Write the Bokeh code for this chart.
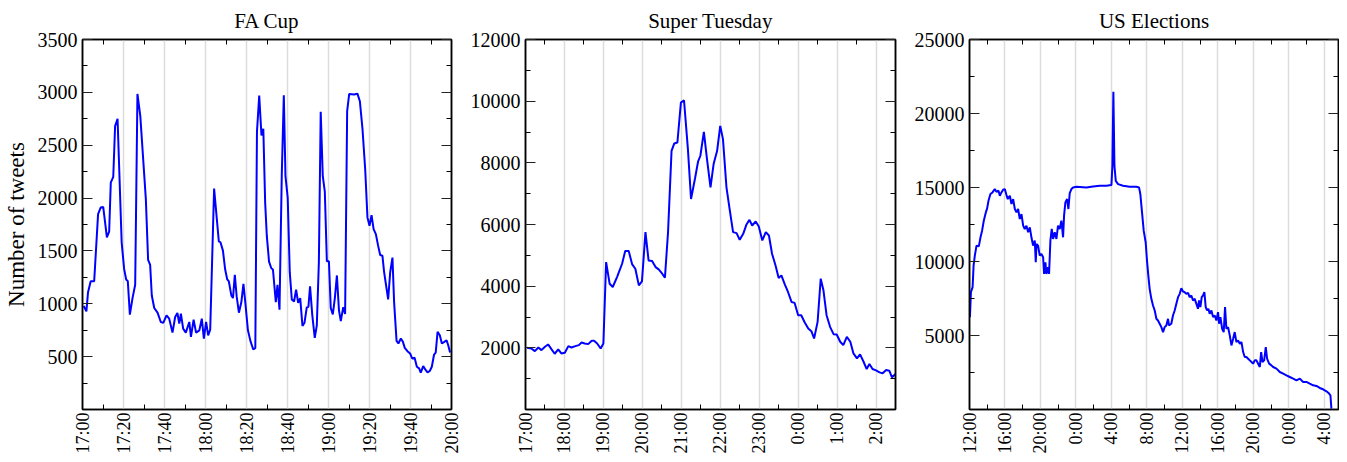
import numpy as np
from bokeh.plotting import figure
from bokeh.models import FixedTicker, LinearAxis, Range1d, ColumnDataSource
from bokeh.layouts import row
from bokeh.embed import file_html
from bokeh.resources import INLINE

FONT = "Liberation Serif"

# ---------------- FA Cup (minutes after 17:00) ----------------
fa_minutes = [0.6, 1.9, 2.7, 4.0, 5.7, 7.6, 8.9, 10.1, 11.9, 13.0, 13.8, 15.0, 15.9, 17.1,
              19.1, 20.3, 21.3, 22.1, 23.1, 24.4, 25.7, 26.8, 28.2, 30.9, 32.0, 33.0, 33.8,
              35.0, 36.6, 38.2, 39.4, 41.0, 42.3, 43.9, 45.2, 46.3, 47.2, 48.0, 49.1, 50.4,
              52.1, 52.9, 54.2, 55.4, 57.0, 58.2, 59.2, 60.3, 61.3, 62.3, 64.2, 66.5, 67.3,
              68.5, 69.6, 70.6, 71.4, 72.6, 73.4, 74.3, 75.2, 76.3, 77.5, 78.5, 79.4, 80.7,
              81.9, 83.3, 84.3, 85.1, 86.2, 87.3, 88.2, 89.1, 89.9, 91.0, 92.1, 92.9, 94.3,
              95.1, 96.1, 97.2, 98.2, 99.0, 100.1, 101.1, 102.1, 103.2, 104.2, 105.2, 106.2,
              107.3, 108.3, 109.4, 110.2, 111.0, 112.1, 113.3, 114.3, 115.3, 116.2, 117.2,
              118.2, 119.2, 120.2, 121.1, 122.1, 123.1, 124.1, 125.1, 126.0, 127.2, 128.1,
              129.1, 130.1, 132.5, 134.1, 135.3, 136.6, 137.9, 139.0, 140.0, 141.0, 142.0,
              143.1, 144.2, 145.2, 146.3, 147.1, 148.1, 149.1, 150.1, 151.2, 152.0, 153.2,
              154.1, 155.3, 156.3, 157.2, 158.5, 159.8, 160.8, 162.0, 163.1, 164.2, 165.0,
              166.2, 167.2, 168.3, 169.4, 170.4, 171.5, 172.3, 173.2, 174.3, 175.3, 176.5,
              177.6, 178.4, 179.3]
fa_tweets = [979, 928, 1110, 1214, 1214, 1848, 1911, 1917, 1629, 1682, 2147, 2200, 2680, 2750,
             1582, 1330, 1230, 1214, 897, 1054, 1180, 2985, 2775, 1990, 1415, 1368, 1079,
             960, 916, 828, 819, 890, 859, 727, 875, 913, 812, 906, 765, 727,
             828, 687, 850, 727, 749, 859, 671, 828, 702, 756, 2090, 1591, 1582,
             1503, 1324, 1230, 1211, 1079, 1054, 1274, 1070, 916, 1016, 1189, 1016, 749,
             649, 567, 583, 2624, 2969, 2593, 2656, 1958, 1644, 1399, 1336, 1324, 1016,
             1180, 944, 2210, 2972, 2210, 2005, 1299, 1041, 1022, 1133, 1010, 1054,
             790, 821, 966, 972, 1164, 891, 677, 796, 1393, 2816, 2210,
             2062, 1403, 1403, 960, 900, 1054, 1268, 938, 837, 969, 903,
             2822, 2985, 2979, 2988, 2916, 2649, 2272, 1817, 1738, 1838, 1706,
             1659, 1550, 1462, 1455, 1305, 1173, 1041, 1299, 1437, 1016, 649,
             624, 671, 640, 583, 552, 530, 483, 489, 404, 389, 348,
             411, 379, 351, 364, 404, 520, 539, 734, 702, 624, 640,
             655, 608, 539]
fa_xticks = [0, 20, 40, 60, 80, 100, 120, 140, 160, 180]
fa_xlabels = ["17:00", "17:20", "17:40", "18:00", "18:20", "18:40", "19:00", "19:20", "19:40", "20:00"]
fa_xminor = [10, 30, 50, 70, 90, 110, 130, 150, 170]
fa_yticks = [500, 1000, 1500, 2000, 2500, 3000, 3500]
fa_yminor = [250, 750, 1250, 1750, 2250, 2750, 3250]

# ---------------- Super Tuesday (hours after 17:00) ----------------
st_hours = [0.04, 0.15, 0.24, 0.33, 0.41, 0.50, 0.58, 0.67, 0.75, 0.84, 0.92, 1.01, 1.10, 1.18,
            1.28, 1.37, 1.44, 1.52, 1.61, 1.70, 1.76, 1.84, 1.93, 2.00, 2.07, 2.16, 2.24, 2.35,
            2.48, 2.56, 2.65, 2.74, 2.82, 2.91, 2.99, 3.08, 3.16, 3.25, 3.34, 3.42, 3.51, 3.58,
            3.66, 3.75, 3.82, 3.90, 3.99, 4.07, 4.17, 4.25, 4.35, 4.43, 4.49, 4.58, 4.66, 4.75,
            4.83, 4.92, 5.00, 5.07, 5.16, 5.24, 5.33, 5.42, 5.50, 5.59, 5.67, 5.75, 5.82, 5.91,
            5.99, 6.08, 6.17, 6.25, 6.33, 6.42, 6.50, 6.57, 6.66, 6.74, 6.83, 6.91, 7.00, 7.08,
            7.17, 7.26, 7.34, 7.41, 7.50, 7.58, 7.65, 7.73, 7.82, 7.91, 7.99, 8.08, 8.16, 8.25,
            8.34, 8.42, 8.51, 8.59, 8.68, 8.76, 8.83, 8.91, 9.00, 9.09, 9.17, 9.26, 9.34, 9.41,
            9.50]
st_tweets = [2001, 1980, 1892, 2012, 1926, 2034, 2110, 1948, 1808, 1948, 1818, 1840, 2055, 2012,
             2055, 2088, 2174, 2142, 2120, 2228, 2228, 2142, 1980, 2142, 4781, 4080, 3973, 4296,
             4727, 5137, 5137, 4706, 4565, 4027, 4157, 5752, 4835, 4813, 4619, 4544, 4404, 4275,
             5752, 8391, 8628, 8660, 9954, 10030, 8445, 6828, 7476, 8036, 8230, 9006, 8122, 7206,
             7961, 8391, 9200, 8769, 7206, 6505, 5752, 5719, 5503, 5698, 5989, 6150, 5967, 6097,
             5935, 5482, 5752, 5644, 5052, 4673, 4264, 4350, 4049, 3812, 3489, 3457, 3058, 3058,
             2821, 2627, 2541, 2304, 2843, 4243, 3866, 3058, 2681, 2444, 2433, 2196, 2088, 2357,
             2196, 1818, 1657, 1786, 1549, 1312, 1474, 1312, 1269, 1205, 1173, 1280, 1258, 1043,
             1151]
st_xticks = [0, 1, 2, 3, 4, 5, 6, 7, 8, 9]
st_xlabels = ["17:00", "18:00", "19:00", "20:00", "21:00", "22:00", "23:00", "0:00", "1:00", "2:00"]
st_xminor = [0.5, 1.5, 2.5, 3.5, 4.5, 5.5, 6.5, 7.5, 8.5]
st_yticks = [2000, 4000, 6000, 8000, 10000, 12000]
st_yminor = [1000, 3000, 5000, 7000, 9000, 11000]

# ---------------- US Elections (hours after 12:00) ----------------
us_hours = [0.05, 0.16, 0.35, 0.46, 0.60, 0.79, 1.05, 1.24, 1.42, 1.61, 1.84, 1.99, 2.14, 2.36,
            2.59, 2.85, 3.04, 3.27, 3.42, 3.60, 3.79, 3.98, 4.17, 4.32, 4.55, 4.73, 4.92, 5.11,
            5.30, 5.48, 5.67, 5.86, 6.05, 6.23, 6.42, 6.61, 6.80, 6.98, 7.17, 7.36, 7.47, 7.55,
            7.73, 7.92, 8.11, 8.30, 8.41, 8.56, 8.67, 8.86, 8.97, 9.12, 9.27, 9.42, 9.61, 9.80,
            9.98, 10.17, 10.36, 10.55, 10.66, 10.81, 11.00, 11.15, 11.30, 11.49, 11.68, 12.05,
            13.18, 13.93, 14.68, 15.43, 16.00, 16.11, 16.22, 16.34, 16.49, 16.75, 17.31, 18.06,
            18.81, 19.11, 19.26, 19.45, 19.64, 19.86, 20.01, 20.16, 20.31, 20.50, 20.69, 20.88,
            21.07, 21.25, 21.44, 21.63, 21.82, 22.00, 22.19, 22.38, 22.49, 22.75, 22.94, 23.13,
            23.32, 23.51, 23.70, 23.88, 24.07, 24.26, 24.45, 24.64, 24.82, 25.01, 25.20, 25.39,
            25.58, 25.76, 25.88, 26.03, 26.18, 26.33, 26.48, 26.63, 26.78, 26.93, 27.08, 27.27,
            27.46, 27.65, 27.83, 28.02, 28.14, 28.29, 28.48, 28.66, 28.81, 28.96, 29.15, 29.34,
            29.53, 29.72, 29.90, 30.09, 30.28, 30.47, 30.66, 30.85, 31.03, 31.22, 31.41, 31.60,
            31.79, 31.97, 32.16, 32.35, 32.54, 32.73, 32.88, 33.03, 33.22, 33.40, 33.55, 33.78,
            34.04, 34.23, 34.61, 34.98, 35.36, 35.73, 36.11, 36.49, 36.86, 37.24, 37.61, 37.99,
            38.36, 38.74, 39.11, 39.49, 39.86, 40.24, 40.54, 40.69, 40.80]
us_tweets = [6243, 7928, 8265, 9722, 10396, 11070, 11025, 11632, 12081, 12755, 13317, 13592, 14104, 14556,
             14668, 14893, 14713, 14780, 14443, 14668, 14848, 14893, 14488, 14219, 14443, 13882, 14219, 13545,
             13320, 13545, 12871, 13208, 12422, 12197, 12422, 11973, 12309, 11635, 11073, 11410, 9949, 11185,
             11073, 10399, 10511, 10286, 9163, 9949, 9163, 9612, 9163, 11410, 12197, 11522, 11973, 11522,
             12422, 12197, 12758, 11635, 13095, 13994, 14219, 13545, 14623, 14893, 15005, 15050,
             15005, 15072, 15117, 15117, 15162, 16460, 21470, 16460, 15450, 15225, 15117, 15050,
             15050, 15005, 14556, 13320, 12085, 11298, 10062, 9051, 8152, 7478, 7028, 6691,
             6130, 6017, 5792, 5568, 5231, 5568, 5680, 6130, 5680, 5792, 6354, 6691,
             7140, 7590, 7815, 8197, 7972, 7928, 7815, 7882, 7590, 7703, 7365, 7478,
             7140, 6803, 7365, 6916, 7590, 7703, 7928, 6916, 6691, 6803, 6466, 6691,
             6242, 6354, 6017, 6579, 5792, 6242, 5455, 5231, 6916, 5455, 5568, 5006,
             4332, 4781, 5231, 4556, 4669, 4444, 4556, 3882, 3545, 3545, 3433, 3321,
             3208, 3096, 3321, 3321, 3096, 2871, 3882, 3208, 3321, 4220, 3433, 3096,
             2983, 2871, 2759, 2534, 2422, 2310, 2197, 2085, 1972, 2085, 1860, 1860,
             1748, 1635, 1590, 1456, 1366, 1231, 1074, 962, 63]
us_xticks = [0, 4, 8, 12, 16, 20, 24, 28, 32, 36, 40]
us_xlabels = ["12:00", "16:00", "20:00", "0:00", "4:00", "8:00", "12:00", "16:00", "20:00", "0:00", "4:00"]
us_xminor = [2, 6, 10, 14, 18, 22, 26, 30, 34, 38]
us_yticks = [5000, 10000, 15000, 20000, 25000]
us_yminor = [2500, 7500, 12500, 17500, 22500]


def make_panel(title, xs, ys, xmax, ymax, xticks, xlabels, xminor, yticks, yminor,
               border_left, border_right, frame_w, ylabel=None):
    p = figure(frame_width=frame_w, frame_height=370,
               x_range=Range1d(0, xmax), y_range=Range1d(0, ymax),
               toolbar_location=None, output_backend="svg",
               min_border_left=border_left, min_border_right=border_right,
               min_border_top=0, min_border_bottom=0, title=title)
    p.background_fill_color = "white"
    p.border_fill_color = "white"
    p.outline_line_color = "black"
    p.outline_line_width = 1.5

    p.title.text_font = FONT
    p.title.text_font_size = "21px"
    p.title.text_font_style = "normal"
    p.title.text_color = "black"
    p.title.align = "center"
    p.title.standoff = 13

    p.xgrid.ticker = FixedTicker(ticks=xticks)
    p.xgrid.grid_line_color = "#dcdcdc"
    p.xgrid.grid_line_width = 1.5
    p.ygrid.visible = False

    bottom = p.below[0]
    left = p.left[0]
    top = LinearAxis()
    p.add_layout(top, "above")
    right = LinearAxis()
    p.add_layout(right, "right")

    overrides = {t: lab for t, lab in zip(xticks, xlabels)}
    for ax in (bottom, top):
        ax.ticker = FixedTicker(ticks=xticks, minor_ticks=xminor)
        ax.major_tick_in = 0
        ax.major_tick_out = 0
        ax.minor_tick_in = 5
        ax.minor_tick_out = 0
        ax.minor_tick_line_color = "black"
        ax.axis_line_color = "black"
        ax.axis_line_width = 1.5
    bottom.major_label_overrides = overrides
    bottom.major_label_orientation = np.pi / 2
    bottom.major_label_text_font = FONT
    bottom.major_label_text_font_size = "18px"
    bottom.major_label_text_color = "black"
    bottom.major_label_standoff = 3

    for ax in (left, right):
        ax.ticker = FixedTicker(ticks=yticks, minor_ticks=yminor)
        ax.major_tick_in = 10
        ax.major_tick_out = 0
        ax.minor_tick_in = 5
        ax.minor_tick_out = 0
        ax.major_tick_line_color = "#222222"
        ax.minor_tick_line_color = "black"
        ax.axis_line_color = "black"
        ax.axis_line_width = 1.5
    left.major_label_text_font = FONT
    left.major_label_text_font_size = "20px"
    left.major_label_text_color = "black"
    left.major_label_standoff = 5

    for ax in (top, right):
        ax.major_label_text_color = None
        ax.major_label_text_font_size = "1px"
        ax.major_label_standoff = 0

    if ylabel:
        left.axis_label = ylabel
        left.axis_label_text_font = FONT
        left.axis_label_text_font_size = "23px"
        left.axis_label_text_font_style = "normal"
        left.axis_label_text_color = "black"
        left.axis_label_standoff = 6

    src = ColumnDataSource(data=dict(x=xs, y=ys))
    p.line("x", "y", source=src, line_color="#0000ff", line_width=2)
    return p


p1 = make_panel("FA Cup", fa_minutes, fa_tweets, 180, 3500, fa_xticks, fa_xlabels, fa_xminor,
                fa_yticks, fa_yminor, 74, 10, 369, ylabel="Number of tweets")
p2 = make_panel("Super Tuesday", st_hours, st_tweets, 9.5, 12000, st_xticks, st_xlabels, st_xminor,
                st_yticks, st_yminor, 64, 10, 370)
p3 = make_panel("US Elections", us_hours, us_tweets, 41.6, 25000, us_xticks, us_xlabels, us_xminor,
                us_yticks, us_yminor, 64, 1, 369)

layout = row(p1, p2, p3)
open("out.html", "w").write(file_html(layout, INLINE))
